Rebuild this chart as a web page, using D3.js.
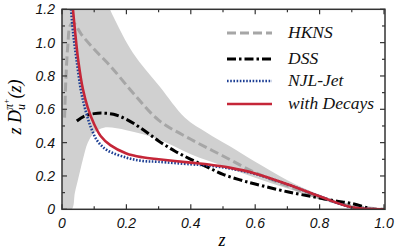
<!DOCTYPE html>
<html>
<head>
<meta charset="utf-8">
<script src="https://cdn.jsdelivr.net/npm/d3@7"></script>
<style>
  body { margin: 0; background: #fff; }
</style>
</head>
<body>
<div id="canvas"></div>
<script>
"use strict"

/* values */
let hknsZ = [0.008, 0.012, 0.018, 0.025, 0.035, 0.06, 0.1, 0.15, 0.22, 0.3, 0.4, 0.5, 0.6, 0.7, 0.8, 0.9, 1.0]
let hknsD = [0.55, 0.78, 0.98, 1.1, 1.12, 1.05, 0.96, 0.86, 0.70, 0.535, 0.42, 0.32, 0.22, 0.14, 0.07, 0.02, 0]

let dssZ = [0.046, 0.07, 0.1, 0.125, 0.16, 0.2, 0.25, 0.3, 0.35, 0.4, 0.45, 0.5, 0.55, 0.6, 0.7, 0.8, 0.85, 0.9, 0.95]
let dssD = [0.53, 0.56, 0.574, 0.577, 0.57, 0.54, 0.48, 0.41, 0.35, 0.30, 0.255, 0.21, 0.178, 0.152, 0.105, 0.068, 0.05, 0.035, 0.008]

let njlZ = [0.028, 0.035, 0.045, 0.06, 0.075, 0.09, 0.11, 0.14, 0.2, 0.25, 0.3, 0.4, 0.45, 0.52, 0.6, 0.7, 0.8, 0.9, 1.0]
let njlD = [1.2, 1.05, 0.9, 0.70, 0.58, 0.49, 0.41, 0.355, 0.31, 0.29, 0.285, 0.27, 0.263, 0.245, 0.212, 0.15, 0.078, 0.012, 0]

let decZ = [0.034, 0.042, 0.05, 0.065, 0.08, 0.1, 0.12, 0.15, 0.2, 0.25, 0.3, 0.4, 0.45, 0.52, 0.6, 0.7, 0.8, 0.9, 1.0]
let decD = [1.2, 1.04, 0.9, 0.72, 0.61, 0.51, 0.44, 0.385, 0.335, 0.312, 0.30, 0.28, 0.27, 0.25, 0.215, 0.15, 0.078, 0.012, 0]

/* uncertainty band of HKNS */
let bandUpZ = [0, 0.13, 0.149, 0.165, 0.22, 0.304, 0.382, 0.45, 0.52, 0.6, 0.7, 0.8, 0.9, 1.0]
let bandUpD = [1.3, 1.3, 1.2, 1.135, 0.94, 0.735, 0.55, 0.46, 0.38, 0.285, 0.175, 0.088, 0.026, 0]
let bandLoZ = [0, 0.03, 0.04, 0.05, 0.065, 0.08, 0.1, 0.13, 0.2, 0.3, 0.4, 0.5, 0.6, 0.7, 0.8, 0.9, 1.0]
let bandLoD = [0, 0, 0.1, 0.18, 0.3, 0.4, 0.46, 0.49, 0.475, 0.42, 0.33, 0.26, 0.19, 0.125, 0.06, 0.015, 0]

let xTicks = [0, 0.2, 0.4, 0.6, 0.8, 1.0]
let xTickLabels = ["0", "0.2", "0.4", "0.6", "0.8", "1.0"]
let yTicks = [0, 0.2, 0.4, 0.6, 0.8, 1.0, 1.2]
let yTickLabels = ["0", "0.2", "0.4", "0.6", "0.8", "1.0", "1.2"]

let legendNames = ["HKNS", "DSS", "NJL-Jet", "with Decays"]

let W = 399, H = 252
let plotL = 62, plotR = 384, plotT = 9.3, plotB = 209.3
let serif = "Liberation Serif"
let sans = "Liberation Sans"

let drawing = d3.select("#canvas")
    .append("svg")
    .attr("width", W)
    .attr("height", H)

let x = d3.scaleLinear().domain([0, 1]).range([plotL, plotR])
let y = d3.scaleLinear().domain([0, 1.2]).range([plotB, plotT])

drawing.append("clipPath").attr("id", "plot")
    .append("rect")
    .attr("x", plotL).attr("y", plotT)
    .attr("width", plotR - plotL + 1).attr("height", plotB - plotT)

let plot = drawing.append("g").attr("clip-path", "url(#plot)")

let curve = d3.line()
    .x(d => x(d[0]))
    .y(d => y(d[1]))
    .curve(d3.curveCatmullRom.alpha(0.5))

/* gray band: smooth upper edge, then the lower edge back */
let upperPath = curve(d3.zip(bandUpZ, bandUpD))
let lowerPath = curve(d3.zip(bandLoZ, bandLoD).reverse())
plot.append("path")
    .attr("d", upperPath + "L" + lowerPath.slice(1) + "Z")
    .attr("fill", "#d0d0d0")

/* HKNS */
plot.append("path")
    .attr("d", curve(d3.zip(hknsZ, hknsD)))
    .attr("fill", "none")
    .attr("stroke", "#a6a6a6")
    .attr("stroke-width", 3)
    .attr("stroke-dasharray", "9,4")

/* DSS */
plot.append("path")
    .attr("d", curve(d3.zip(dssZ, dssD)))
    .attr("fill", "none")
    .attr("stroke", "#000")
    .attr("stroke-width", 3)
    .attr("stroke-dasharray", "9,3,2.5,3")

/* NJL-Jet */
plot.append("path")
    .attr("d", curve(d3.zip(njlZ, njlD)))
    .attr("fill", "none")
    .attr("stroke", "#1d3f94")
    .attr("stroke-width", 2.6)
    .attr("stroke-dasharray", "1.6,1.6")

/* with decays */
plot.append("path")
    .attr("d", curve(d3.zip(decZ, decD)))
    .attr("fill", "none")
    .attr("stroke", "#c52638")
    .attr("stroke-width", 2.6)

/* frame and ticks */
drawing.append("rect")
    .attr("x", plotL).attr("y", plotT)
    .attr("width", plotR - plotL + 1).attr("height", plotB - plotT)
    .attr("fill", "none")
    .attr("stroke", "#333")
    .attr("stroke-width", 1.5)

let minorX = d3.range(0, 1.0001, 0.1)
let minorY = d3.range(0, 1.2001, 0.1)
let isMajor = v => Math.abs(v / 0.2 - Math.round(v / 0.2)) < 1e-6

let ticks = drawing.append("g").attr("stroke", "#333").attr("stroke-width", 1.2)
minorX.forEach(v => {
  let len = isMajor(v) ? 5 : 3
  ticks.append("line").attr("x1", x(v)).attr("x2", x(v)).attr("y1", plotB).attr("y2", plotB - len)
  ticks.append("line").attr("x1", x(v)).attr("x2", x(v)).attr("y1", plotT).attr("y2", plotT + len)
})
minorY.forEach(v => {
  let len = isMajor(v) ? 5 : 3
  ticks.append("line").attr("x1", plotL).attr("x2", plotL + len).attr("y1", y(v)).attr("y2", y(v))
  ticks.append("line").attr("x1", plotR + 1).attr("x2", plotR + 1 - len).attr("y1", y(v)).attr("y2", y(v))
})

drawing.append("g").selectAll("text")
    .data(xTicks)
    .join("text")
    .attr("x", d => x(d))
    .attr("y", 228)
    .attr("text-anchor", "middle")
    .style("font-family", sans)
    .style("font-style", "italic")
    .style("font-size", "14px")
    .attr("fill", "#111")
    .text((d, i) => xTickLabels[i])

drawing.append("g").selectAll("text")
    .data(yTicks)
    .join("text")
    .attr("x", 55)
    .attr("y", d => y(d) + 5)
    .attr("text-anchor", "end")
    .style("font-family", sans)
    .style("font-style", "italic")
    .style("font-size", "14px")
    .attr("fill", "#111")
    .text((d, i) => yTickLabels[i])

/* axis titles */
drawing.append("text")
    .attr("x", 222)
    .attr("y", 246)
    .attr("text-anchor", "middle")
    .style("font-family", serif)
    .style("font-style", "italic")
    .style("font-size", "18px")
    .text("z")

let yTitle = drawing.append("text")
    .attr("transform", "translate(21,107) rotate(-90)")
    .attr("text-anchor", "middle")
    .style("font-family", serif)
    .style("font-style", "italic")
    .style("font-size", "18px")
yTitle.append("tspan").text("z D")
yTitle.append("tspan").style("font-size", "12px").attr("dy", 4).text("u")
yTitle.append("tspan").style("font-size", "12px").attr("dx", -6).attr("dy", -12).text("π")
yTitle.append("tspan").style("font-size", "8px").attr("dy", -4).text("+")
yTitle.append("tspan").attr("dy", 12).text("(z)")

/* legend */
let legendY = [33, 59, 81, 104]
let legendStyle = [
  {stroke: "#a6a6a6", width: 3, dash: "9,4"},
  {stroke: "#000", width: 3, dash: "9,3,2.5,3"},
  {stroke: "#1d3f94", width: 2.4, dash: "1.6,1.6"},
  {stroke: "#c52638", width: 2.6, dash: null}
]
let legend = drawing.append("g")
legendNames.forEach((name, i) => {
  legend.append("line")
      .attr("x1", 227).attr("x2", 272)
      .attr("y1", legendY[i]).attr("y2", legendY[i])
      .attr("stroke", legendStyle[i].stroke)
      .attr("stroke-width", legendStyle[i].width)
      .attr("stroke-dasharray", legendStyle[i].dash)
  legend.append("text")
      .attr("x", 288)
      .attr("y", legendY[i] + 5)
      .style("font-family", serif)
      .style("font-style", "italic")
      .style("font-size", "17.5px")
      .attr("fill", "#111")
      .text(name)
})
</script>
</body>
</html>
